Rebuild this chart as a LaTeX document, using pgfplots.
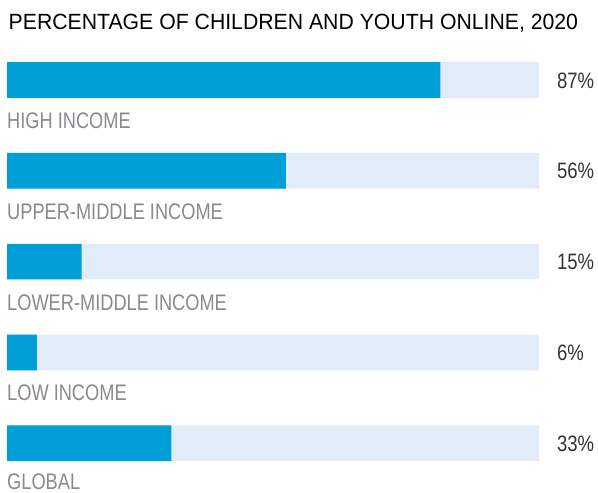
\documentclass[border=0pt]{standalone}
\usepackage{pgfplots}
\pgfplotsset{compat=1.18}
\usepackage{fontspec}
\setmainfont{Liberation Sans}
\newfontfamily\titlefont[FakeStretch=0.965]{Liberation Sans}
\newfontfamily\condfont[FakeStretch=0.81]{Liberation Sans}
\newfontfamily\numfont[FakeStretch=0.83]{Liberation Sans}
\definecolor{barblue}{RGB}{0,159,218}
\definecolor{track}{RGB}{226,236,248}
\definecolor{labgray}{RGB}{137,137,142}
\definecolor{numgray}{RGB}{51,51,51}

\begin{document}
\begin{tikzpicture}[
    cat/.style={anchor=base west, inner sep=0pt, text=labgray,
        font=\condfont\fontsize{22.5bp}{26bp}\selectfont},
    num/.style={anchor=base west, inner sep=0pt, text=numgray,
        font=\numfont\fontsize{22.3bp}{26bp}\selectfont},
  ]
\useasboundingbox (0,0) rectangle (598bp,493bp);
\begin{axis}[
    at={(7bp,4.4bp)}, anchor=south west,
    scale only axis, width=532bp, height=454bp,
    xmin=0, xmax=106.8, ymin=-0.5, ymax=4.5,
    y dir=reverse,
    axis lines=none, clip=false,
    xbar, bar width=35.7bp, bar shift=0pt,
  ]
  % track behind every bar
  \addplot[fill=track, draw=none]
    coordinates {(106.8,0) (106.8,1) (106.8,2) (106.8,3) (106.8,4)};
  % share online
  \addplot[fill=barblue, draw=none]
    coordinates {(87,0) (56,1) (15,2) (6,3) (33,4)};

  \node[anchor=base west, inner sep=0pt, text=black,
        font=\titlefont\fontsize{22bp}{26bp}\selectfont]
    at (axis cs:0,-0.5) [xshift=1.5bp, yshift=5.6bp] {PERCENTAGE OF CHILDREN AND YOUTH ONLINE, 2020};

  \node[cat] at (axis cs:0,0.535) {HIGH INCOME};
  \node[cat] at (axis cs:0,1.535) {UPPER-MIDDLE INCOME};
  \node[cat] at (axis cs:0,2.535) {LOWER-MIDDLE INCOME};
  \node[cat] at (axis cs:0,3.535) {LOW INCOME};
  \node[cat] at (axis cs:0,4.51) {GLOBAL};

  \node[num] at (axis cs:110.4,0.09) {87\%};
  \node[num] at (axis cs:110.4,1.09) {56\%};
  \node[num] at (axis cs:110.4,2.09) {15\%};
  \node[num] at (axis cs:110.4,3.09) {6\%};
  \node[num] at (axis cs:110.4,4.09) {33\%};
\end{axis}
\end{tikzpicture}
\end{document}
